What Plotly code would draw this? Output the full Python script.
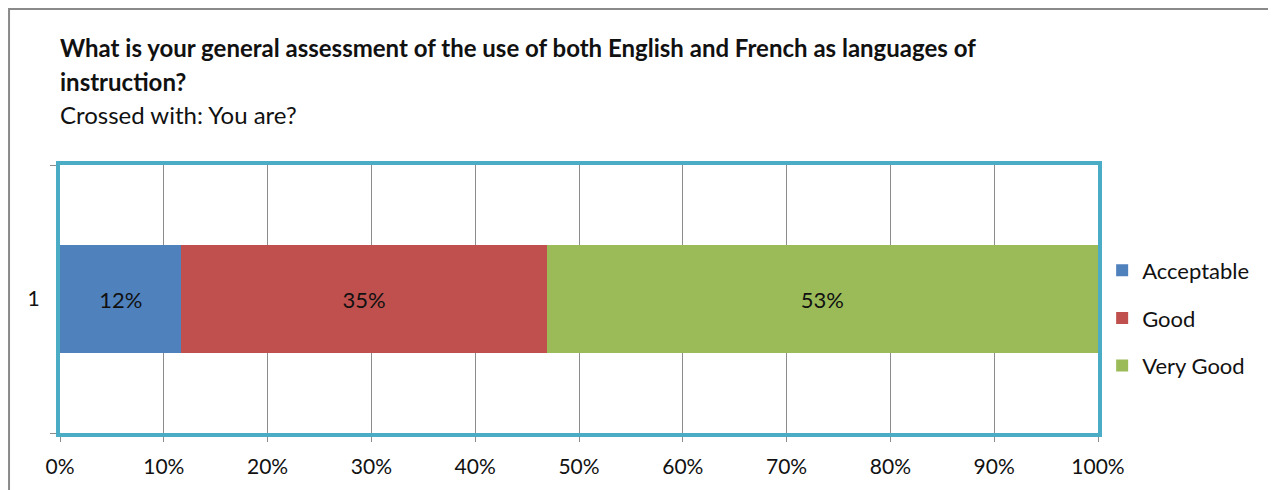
import plotly.graph_objects as go

# survey answer shares (percent)
categories = ["1"]
series_names = ["Acceptable", "Good", "Very Good"]
series_values = [[11.7], [35.2], [53.1]]
series_labels = [["12%"], ["35%"], ["53%"]]
series_colors = ["#4F81BD", "#C0504D", "#9BBB59"]
x_ticks = [0, 10, 20, 30, 40, 50, 60, 70, 80, 90, 100]
x_ticktext = [f"{v}%" for v in x_ticks]

FONT = "Lato, Calibri, 'Open Sans', sans-serif"

fig = go.Figure()
for i, name in enumerate(series_names):
    fig.add_trace(go.Bar(
        y=categories,
        x=series_values[i],
        name=name,
        orientation="h",
        marker=dict(color=series_colors[i], line=dict(width=0)),
        text=series_labels[i],
        textposition="inside",
        insidetextanchor="middle",
        textfont=dict(size=22, color="#111111", family=FONT),
        legendgroup=name,
    ))

# the page adds an 8px body margin, so margins are shifted by that amount
fig.update_layout(
    width=1276, height=490,
    margin=dict(l=52, r=186, t=157, b=65, autoexpand=False),
    barmode="stack",
    bargap=0.6,
    paper_bgcolor="white",
    plot_bgcolor="white",
    font=dict(family=FONT, size=21, color="#111111"),
    showlegend=True,
    legend=dict(x=1.004, y=0.429, xanchor="left", yanchor="middle",
                font=dict(size=22, family=FONT), tracegroupgap=16,
                bgcolor="rgba(0,0,0,0)"),
)

fig.update_xaxes(
    range=[0, 100], tickvals=x_ticks, ticktext=x_ticktext,
    showgrid=True, gridcolor="#8c8c8c", gridwidth=1,
    showline=True, mirror=True, linecolor="#4BACC6", linewidth=4,
    ticks="outside", ticklen=5, tickcolor="#8c8c8c",
    tickfont=dict(size=21), zeroline=False, automargin=False,
    ticklabelstandoff=7,
)
fig.update_yaxes(
    type="category", range=[-0.5, 0.5], tickson="boundaries",
    showline=True, mirror=True, linecolor="#4BACC6", linewidth=4,
    ticks="outside", ticklen=6, tickcolor="#8c8c8c",
    tickfont=dict(size=21), showgrid=False, automargin=False,
    ticklabelstandoff=12,
)

# outer chart frame
fig.add_shape(type="rect", xref="paper", yref="paper",
              x0=-0.0491, x1=1.1676, y0=-0.4, y1=1.582,
              line=dict(color="#8a8a8a", width=2), layer="below")

fig.add_annotation(xref="paper", yref="paper", x=0.0, y=1.440, xanchor="left", yanchor="middle",
                   text="<b>What is your general assessment of the use of both English and French as languages of</b>",
                   showarrow=False, font=dict(size=24), xshift=-2)
fig.add_annotation(xref="paper", yref="paper", x=0.0, y=1.313, xanchor="left", yanchor="middle",
                   text="<b>instruction?</b>", showarrow=False, font=dict(size=24), xshift=-2)
fig.add_annotation(xref="paper", yref="paper", x=0.0, y=1.187, xanchor="left", yanchor="middle",
                   text="Crossed with: You are?", showarrow=False, font=dict(size=24), xshift=-2)

fig.write_html("out.html")
